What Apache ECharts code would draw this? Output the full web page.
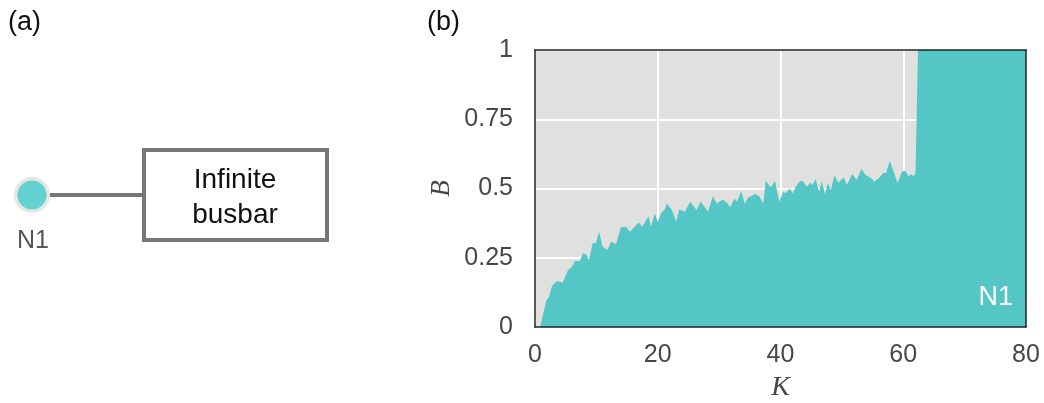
<!DOCTYPE html>
<html>
<head>
<meta charset="utf-8">
<script src="https://cdn.jsdelivr.net/npm/echarts@6/dist/echarts.min.js"></script>
<style>
html,body{margin:0;padding:0;background:#fff;}
#chart{width:1044px;height:403px;}
</style>
</head>
<body>
<div id="chart"></div>
<script>
// ---- data ----
var kValues = [0, 0.85, 1.85, 2.3, 2.8, 3.5, 4.0, 4.5, 5.4, 6.1, 6.5, 7.3, 7.85, 8.4, 8.8, 9.4, 9.9, 10.45, 11.0, 11.8,
  12.4, 13.2, 14.0, 14.8, 15.5, 16.2, 16.9, 17.45, 18.5, 18.9, 19.5, 20.0, 20.6, 21.1, 21.5, 21.9, 22.3, 23.0, 23.5, 24.4,
  25.3, 26.3, 27.0, 28.2, 29.0, 29.6, 30.6, 31.4, 31.8, 32.5, 32.9, 33.6, 34.2, 34.7, 35.8, 36.5, 37.2, 37.6, 38.4, 39.1,
  39.8, 40.4, 40.9, 41.5, 42.0, 42.5, 43.2, 43.7, 44.3, 44.8, 45.2, 45.7, 46.3, 46.7, 47.3, 47.7, 48.2, 48.8, 49.4, 50.3,
  50.8, 51.7, 52.4, 53.2, 53.8, 54.6, 55.3, 56.0, 56.8, 57.2, 57.8, 58.4, 59.1, 59.8, 60.3, 60.9, 61.2, 61.7, 62.0, 62.4, 80];
var bValues = [0, 0, 0.097, 0.11, 0.15, 0.164, 0.164, 0.16, 0.206, 0.22, 0.238, 0.238, 0.268, 0.26, 0.242, 0.304, 0.302, 0.344, 0.29, 0.278,
  0.308, 0.30, 0.36, 0.362, 0.344, 0.362, 0.377, 0.362, 0.40, 0.362, 0.41, 0.38, 0.413, 0.422, 0.446, 0.434, 0.422, 0.38, 0.425, 0.416,
  0.452, 0.422, 0.452, 0.416, 0.473, 0.446, 0.46, 0.446, 0.432, 0.464, 0.452, 0.49, 0.444, 0.467, 0.48, 0.473, 0.446, 0.528, 0.504, 0.528,
  0.452, 0.488, 0.483, 0.50, 0.483, 0.506, 0.527, 0.525, 0.506, 0.521, 0.513, 0.533, 0.488, 0.525, 0.477, 0.521, 0.495, 0.549, 0.521, 0.54,
  0.513, 0.552, 0.531, 0.571, 0.55, 0.54, 0.525, 0.537, 0.557, 0.555, 0.60, 0.561, 0.521, 0.561, 0.564, 0.543, 0.551, 0.545, 0.555, 1.0, 1.0];
var xTicks = [0, 20, 40, 60, 80];
var yTicks = [0, 0.25, 0.5, 0.75, 1];
var seriesName = 'N1';
var busbarLines = ['Infinite', 'busbar'];

var seriesData = kValues.map(function (k, i) { return [k, bValues[i]]; });

var FONT = '"Liberation Sans", Arial, sans-serif';
var SERIF = '"Liberation Serif", "DejaVu Serif", serif';
var TEAL = '#54c6c5';
var FRAME = '#222';
var LABEL = '#474747';

var chart = echarts.init(document.getElementById('chart'), null, {renderer: 'canvas'});

var frameAxis = function (pos) {
  var isX = pos === 'top' || pos === 'bottom';
  return {
    type: 'value', min: 0, max: isX ? xTicks[xTicks.length - 1] : yTicks[yTicks.length - 1],
    position: pos, z: 10,
    axisLine: {show: true, onZero: false, lineStyle: {color: FRAME, width: 1.5}},
    axisTick: {show: false}, axisLabel: {show: false}, splitLine: {show: false}
  };
};

var xMain = {
  type: 'value', min: xTicks[0], max: xTicks[xTicks.length - 1], interval: 20, position: 'bottom',
  name: 'K', nameLocation: 'middle', nameGap: 47,
  nameTextStyle: {fontFamily: SERIF, fontStyle: 'italic', fontSize: 28, color: LABEL},
  axisLine: {show: false, onZero: false}, axisTick: {show: false},
  axisLabel: {fontFamily: FONT, fontSize: 25, color: LABEL, margin: 16},
  splitLine: {show: true, lineStyle: {color: '#fff', width: 2}}
};
var yMain = {
  type: 'value', min: yTicks[0], max: yTicks[yTicks.length - 1], interval: 0.25, position: 'left',
  name: 'B', nameLocation: 'middle', nameGap: 80, nameRotate: 90,
  nameTextStyle: {fontFamily: SERIF, fontStyle: 'italic', fontSize: 27, color: LABEL},
  axisLine: {show: false, onZero: false}, axisTick: {show: false},
  axisLabel: {fontFamily: FONT, fontSize: 25, color: LABEL, margin: 22},
  splitLine: {show: true, lineStyle: {color: '#fff', width: 2}}
};

chart.setOption({
  animation: false,
  grid: {left: 535, top: 50, width: 491, height: 277, show: true, backgroundColor: '#e0e0df', borderWidth: 0,
         containLabel: false, outerBoundsMode: 'none'},
  xAxis: [xMain, frameAxis('top'), frameAxis('bottom')],
  yAxis: [yMain, frameAxis('right'), frameAxis('left')],
  series: [{
    name: seriesName, type: 'line', xAxisIndex: 0, yAxisIndex: 0,
    data: seriesData, showSymbol: false, symbol: 'none',
    lineStyle: {width: 0, color: TEAL},
    areaStyle: {color: TEAL, opacity: 1},
    z: 3
  }],
  graphic: [
    {type: 'text', left: 8, top: 9, style: {text: '(a)', fontFamily: FONT, fontSize: 27, fill: '#111'}},
    {type: 'text', left: 427, top: 9, style: {text: '(b)', fontFamily: FONT, fontSize: 27, fill: '#111'}},
    {type: 'line', shape: {x1: 50, y1: 195, x2: 143, y2: 195}, style: {stroke: '#777', lineWidth: 4}},
    {type: 'circle', shape: {cx: 32, cy: 195, r: 18}, style: {fill: '#e6e6e4'}},
    {type: 'circle', shape: {cx: 32, cy: 195, r: 14.5}, style: {fill: '#62d1cf'}},
    {type: 'text', x: 33, y: 241, style: {text: 'N1', fontFamily: FONT, fontSize: 25, fill: '#555', align: 'center', verticalAlign: 'middle'}},
    {type: 'rect', shape: {x: 144, y: 150, width: 183, height: 90}, style: {fill: '#fff', stroke: '#777', lineWidth: 4}},
    {type: 'text', x: 235, y: 180, style: {text: busbarLines[0], fontFamily: FONT, fontSize: 28, fill: '#111', align: 'center', verticalAlign: 'middle'}},
    {type: 'text', x: 235, y: 215, style: {text: busbarLines[1], fontFamily: FONT, fontSize: 28, fill: '#111', align: 'center', verticalAlign: 'middle'}},
    {type: 'text', x: 1013, y: 298, z: 20, style: {text: seriesName, fontFamily: FONT, fontSize: 27, fill: '#fff', align: 'right', verticalAlign: 'middle'}}
  ]
});
</script>
</body>
</html>
